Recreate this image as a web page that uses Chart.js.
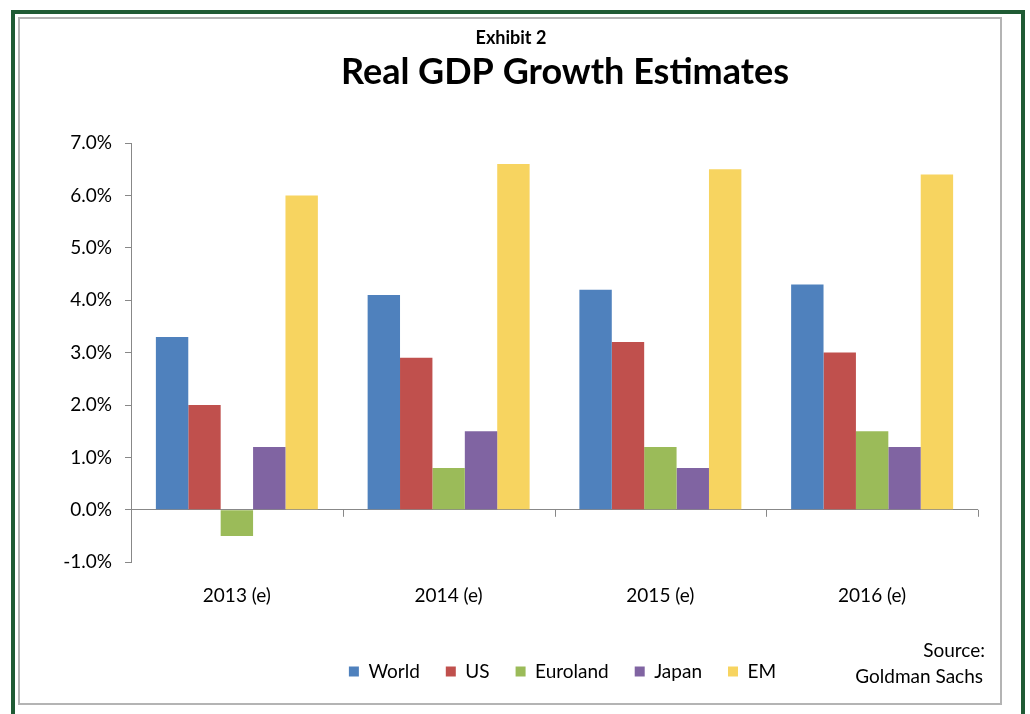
<!DOCTYPE html>
<html>
<head>
<meta charset="utf-8">
<script src="https://cdn.jsdelivr.net/npm/chart.js@4/dist/chart.umd.min.js"></script>
<style>
  html, body { margin: 0; padding: 0; background: #fff; }
  #wrap { position: relative; width: 1030px; height: 714px; overflow: hidden; }
  #outer { position: absolute; left: 11px; top: 10px; width: 1014px; height: 740px; border: 4px solid #1f5b34; box-sizing: border-box; }
  #inner { position: absolute; left: 18px; top: 17px; width: 984px; height: 688px; border: 2px solid #b4b4b4; box-sizing: border-box; }
  #chart { position: absolute; left: 0; top: 0; }
</style>
</head>
<body>
<div id="wrap">
  <div id="outer"></div>
  <div id="inner"></div>
  <canvas id="chart" width="1030" height="714"></canvas>
</div>
<script>
/* global Chart */

const categories = ['2013 (e)', '2014 (e)', '2015 (e)', '2016 (e)']
const world = [3.3, 4.1, 4.2, 4.3]
const us = [2.0, 2.9, 3.2, 3.0]
const euroland = [-0.5, 0.8, 1.2, 1.5]
const japan = [1.2, 1.5, 0.8, 1.2]
const em = [6.0, 6.6, 6.5, 6.4]

const FONT = 'Lato, "Open Sans", sans-serif'
const AXIS = '#888888'

// Titles, source note and the little tick marks on the zero line
const extras = {
  id: 'extras',
  afterLayout (chart) {
    // legend sits a bit right of the plot centre in the original
    chart.legend.left += 8
    chart.legend.right += 8
  },
  afterDraw (chart) {
    const { ctx, scales } = chart
    const x = scales.x
    const y0 = scales.y.getPixelForValue(0)
    ctx.save()
    // category boundary ticks under the zero line
    ctx.strokeStyle = AXIS
    ctx.lineWidth = 1
    const step = (x.right - x.left) / categories.length
    for (let i = 1; i <= categories.length; i++) {
      const px = Math.round(x.left + step * i) + 0.5
      ctx.beginPath()
      ctx.moveTo(px, y0)
      ctx.lineTo(px, y0 + 7)
      ctx.stroke()
    }
    ctx.fillStyle = '#000'
    ctx.textAlign = 'center'
    ctx.textBaseline = 'middle'
    ctx.font = 'bold 18px ' + FONT
    ctx.fillText('Exhibit 2', 511, 38)
    ctx.font = 'bold 36px ' + FONT
    ctx.fillText('Real GDP Growth Estimates', 565, 72)
    ctx.textAlign = 'right'
    ctx.font = '19px ' + FONT
    ctx.fillText('Source:', 985, 651)
    ctx.fillText('Goldman Sachs', 983, 677)
    ctx.restore()
  }
}

const series = [
  ['World', world, '#4f81bd'],
  ['US', us, '#c0504d'],
  ['Euroland', euroland, '#9bbb59'],
  ['Japan', japan, '#8064a2'],
  ['EM', em, '#f7d460']
]

new Chart(document.getElementById('chart'), {
  type: 'bar',
  data: {
    labels: categories,
    datasets: series.map(([label, data, color]) => ({
      label,
      data,
      backgroundColor: color,
      borderWidth: 0,
      barPercentage: 1,
      categoryPercentage: 0.765
    }))
  },
  options: {
    responsive: false,
    animation: false,
    layout: { padding: { left: 20, right: 52, top: 143, bottom: 23 } },
    plugins: {
      tooltip: { enabled: false },
      legend: {
        position: 'bottom',
        fullSize: false,
        labels: {
          boxWidth: 10,
          boxHeight: 10,
          padding: 26,
          color: '#000',
          font: { family: FONT, size: 19 }
        }
      }
    },
    scales: {
      x: {
        afterFit: s => { s.height += 7 },
        grid: { display: false, drawTicks: false },
        border: { display: false },
        ticks: { color: '#000', padding: 22, font: { family: FONT, size: 19 } }
      },
      y: {
        min: -1,
        max: 7,
        afterFit: s => { s.width = 111 },
        ticks: {
          stepSize: 1,
          padding: 13,
          color: '#000',
          font: { family: FONT, size: 19 },
          callback: v => v.toFixed(1) + '%'
        },
        grid: {
          drawOnChartArea: true,
          tickLength: 6,
          tickColor: AXIS,
          color: c => (c.tick && c.tick.value === 0 ? AXIS : 'rgba(0,0,0,0)')
        },
        border: { display: true, color: AXIS }
      }
    }
  },
  plugins: [extras]
})
</script>
</body>
</html>
